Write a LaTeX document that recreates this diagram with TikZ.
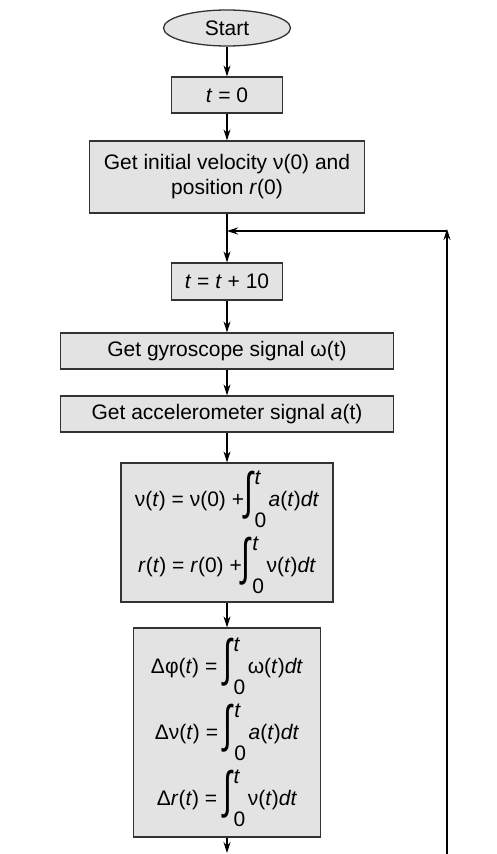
\documentclass[tikz,border=0pt]{standalone}
\usepackage{fontspec}
\setmainfont{Liberation Sans}
\usepackage{graphicx}
\usetikzlibrary{shapes.geometric,arrows.meta}
\newcommand{\dint}{\mbox{\raisebox{-0.62em}{\resizebox*{0.42em}{2.29em}{\raisebox{\depth}{∫}}}\kern0.08em\rlap{\raisebox{1.05em}{\itshape t}}\raisebox{-1em}{0}\kern0.12em}}
\newcommand{\ti}[1]{\textit{#1}}
\begin{document}
\begin{tikzpicture}[x=1pt,y=-1pt,
  box/.style={draw=black!80,line width=1.3pt,fill=black!11,rectangle,inner sep=0pt,align=center,font=\fontsize{21}{25}\selectfont},
  eq/.style={box,font=\fontsize{21}{66}\selectfont},
  arr/.style={line width=1.1pt,-{Stealth[length=11pt,width=7pt]}},
  ln/.style={line width=1.1pt}]
\useasboundingbox (0,0) rectangle (496,854);
\node[box,ellipse,minimum width=127pt,minimum height=36pt] (start) at (227,28) {Start};
\node[box,minimum width=111pt,minimum height=36pt] (t0) at (227,95) {\ti{t} = 0};
\node[box,minimum width=275pt,minimum height=72pt] (init) at (227,177) {Get initial velocity ν(0) and\\position \ti{r}(0)};
\node[box,minimum width=111pt,minimum height=37pt] (tinc) at (227,281.5) {\ti{t} = \ti{t} + 10};
\node[box,minimum width=333pt,minimum height=36pt] (gyro) at (227,351) {Get gyroscope signal ω(t)};
\node[box,minimum width=333pt,minimum height=36pt] (acc) at (227,414) {Get accelerometer signal \ti{a}(t)};
\node[eq,minimum width=212pt,minimum height=139pt] (int1) at (227,532.5) {ν(\ti{t}) = ν(0) +\dint\ti{a}(\ti{t})\ti{dt}\\\ti{r}(\ti{t}) = \ti{r}(0) +\dint ν(\ti{t})\ti{dt}};
\node[eq,minimum width=187pt,minimum height=209pt] (int2) at (227,732.5) {Δφ(\ti{t}) = \dint ω(\ti{t})\ti{dt}\\Δν(\ti{t}) = \dint \ti{a}(\ti{t})\ti{dt}\\Δ\ti{r}(\ti{t}) = \dint ν(\ti{t})\ti{dt}};
\coordinate (join) at (227,231);
\coordinate (loopR) at (447,231);
\coordinate (botR) at (447,854);
\coordinate (botC) at (227,853);
\draw[arr] (start) -- (t0);
\draw[arr] (t0) -- (init);
\draw[arr] (init) -- (tinc);
\draw[arr] (tinc) -- (gyro);
\draw[arr] (gyro) -- (acc);
\draw[arr] (acc) -- (int1);
\draw[arr] (int1) -- (int2);
\draw[arr] (int2) -- (botC);
\draw[arr] (botR) -- ([yshift=2pt]loopR);
\draw[arr] (loopR) -- (join);
\end{tikzpicture}
\end{document}
